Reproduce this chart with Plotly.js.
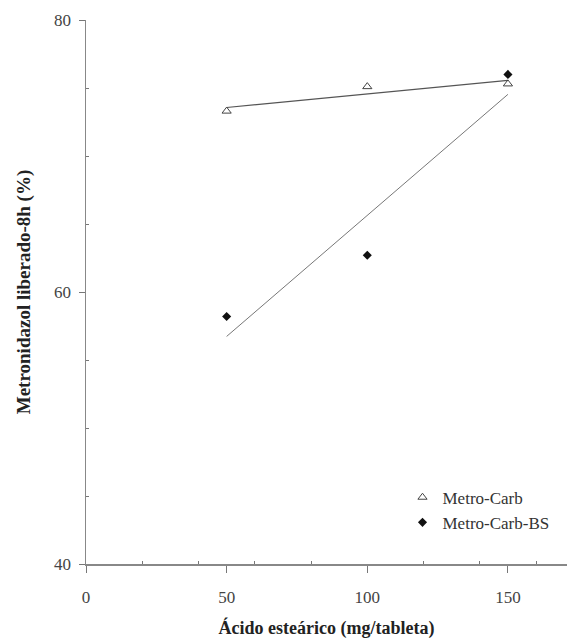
<!DOCTYPE html>
<html>
<head>
<meta charset="utf-8">
<script src="https://cdn.plot.ly/plotly-3.0.1.min.js"></script>
<style>html,body{margin:0;padding:0;background:#fff;}#chart{width:567px;height:639px;}</style>
</head>
<body>
<div id="chart"></div>
<script>
// Data
const acidoEstearico = [50, 100, 150];
const metroCarb = [73.3, 75.1, 75.3];
const metroCarbBS = [58.2, 62.7, 76.0];
const seriesNames = ["Metro-Carb", "Metro-Carb-BS"];

// Least-squares trend line through each series
function fit(xs, ys) {
  const n = xs.length;
  const mx = xs.reduce((a, b) => a + b, 0) / n;
  const my = ys.reduce((a, b) => a + b, 0) / n;
  let sxy = 0, sxx = 0;
  for (let i = 0; i < n; i++) { sxy += (xs[i] - mx) * (ys[i] - my); sxx += (xs[i] - mx) ** 2; }
  const m = sxy / sxx, b = my - m * mx;
  const x0 = Math.min(...xs), x1 = Math.max(...xs);
  return { x: [x0, x1], y: [m * x0 + b, m * x1 + b] };
}
const fitCarb = fit(acidoEstearico, metroCarb);
const fitBS = fit(acidoEstearico, metroCarbBS);

const font = "Liberation Serif";
const traces = [
  { x: fitCarb.x, y: fitCarb.y, mode: "lines", line: { color: "#555", width: 1.2 }, showlegend: false, hoverinfo: "skip" },
  { x: fitBS.x, y: fitBS.y, mode: "lines", line: { color: "#777", width: 1 }, showlegend: false, hoverinfo: "skip" },
  { x: acidoEstearico, y: metroCarb, mode: "markers", name: seriesNames[0],
    marker: { symbol: "triangle-up-open", size: 8, color: "#444", line: { width: 1, color: "#444" } } },
  { x: acidoEstearico, y: metroCarbBS, mode: "markers", name: seriesNames[1],
    marker: { symbol: "diamond", size: 7, color: "#111" } }
];

const layout = {
  width: 567, height: 639,
  margin: { l: 86, r: 0, t: 20, b: 75 },
  paper_bgcolor: "#fff", plot_bgcolor: "#fff",
  font: { family: font, size: 17, color: "#444" },
  showlegend: true,
  legend: { x: 0.658, y: 0.155, xanchor: "left", yanchor: "top", bgcolor: "rgba(0,0,0,0)",
    font: { family: font, size: 17, color: "#333" }, itemwidth: 30, tracegroupgap: 0 },
  xaxis: {
    range: [0, 171], tickvals: [0, 50, 100, 150], ticks: "outside", ticklen: 7, tickwidth: 1, tickcolor: "#777",
    ticklabelstandoff: 10,
    showline: true, linecolor: "#888", linewidth: 1.5, showgrid: false, zeroline: false,
    minor: { tickvals: [20, 40, 60, 80, 120, 140, 160], ticks: "inside", ticklen: 3, tickcolor: "#777", showgrid: false },
    tickfont: { family: font, size: 17, color: "#444" },
    title: { text: "<b>Ácido esteárico (mg/tableta)</b>", standoff: 15, font: { family: font, size: 18, color: "#222" } }
  },
  yaxis: {
    range: [40, 80], tickvals: [40, 60, 80], ticks: "outside", ticklen: 6, tickwidth: 1, tickcolor: "#777",
    ticklabelstandoff: 4,
    showline: true, linecolor: "#888", linewidth: 1.5, showgrid: false, zeroline: false,
    minor: { tickvals: [45, 50, 55, 65, 70, 75], ticks: "inside", ticklen: 3, tickcolor: "#777", showgrid: false },
    tickfont: { family: font, size: 17, color: "#444" },
    title: { text: "<b>Metronidazol liberado-8h (%)</b>", standoff: 18, font: { family: font, size: 19, color: "#222" } }
  }
};

Plotly.newPlot("chart", traces, layout, { displayModeBar: false, staticPlot: true });
</script>
</body>
</html>
